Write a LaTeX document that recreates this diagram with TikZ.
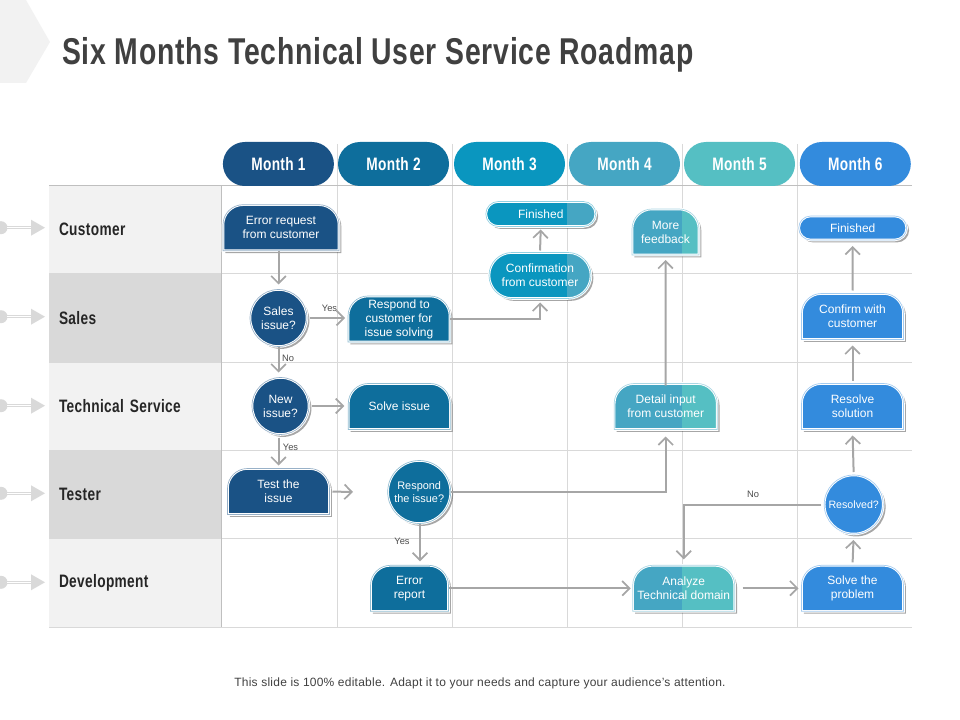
\documentclass[tikz,border=0pt]{standalone}
\usepackage{fontspec}
\setmainfont{Liberation Sans}
\newfontfamily\headfont[FakeStretch=0.76,LetterSpace=2]{Liberation Sans}
\usetikzlibrary{arrows.meta,shapes.misc,shadows}

% month colours
\definecolor{monthA}{HTML}{1A5285}
\definecolor{monthB}{HTML}{0E6E9C}
\definecolor{monthC}{HTML}{0A96BF}
\definecolor{monthD}{HTML}{45A6C3}
\definecolor{monthE}{HTML}{55BFC3}
\definecolor{monthF}{HTML}{338BDD}
\definecolor{rowlight}{HTML}{F2F2F2}
\definecolor{rowdark}{HTML}{D9D9D9}
\definecolor{linegray}{HTML}{A6A6A6}

% box with a round top and a flat bottom
\makeatletter
\pgfdeclareshape{tabshape}{
  \inheritsavedanchors[from=rectangle]
  \inheritanchorborder[from=rectangle]
  \inheritanchor[from=rectangle]{center}
  \inheritanchor[from=rectangle]{north}
  \inheritanchor[from=rectangle]{south}
  \inheritanchor[from=rectangle]{east}
  \inheritanchor[from=rectangle]{west}
  \backgroundpath{
    \southwest \pgf@xa=\pgf@x \pgf@ya=\pgf@y
    \northeast \pgf@xb=\pgf@x \pgf@yb=\pgf@y
    \pgfpathmoveto{\pgfqpoint{\pgf@xa}{\pgf@ya}}
    \pgfpathlineto{\pgfpoint{\pgf@xa}{\pgf@yb-15pt}}
    \pgfpatharc{180}{90}{15pt}
    \pgfpathlineto{\pgfpoint{\pgf@xb-15pt}{\pgf@yb}}
    \pgfpatharc{90}{0}{15pt}
    \pgfpathlineto{\pgfqpoint{\pgf@xb}{\pgf@ya}}
    \pgfpathclose
  }
}
\makeatother

\begin{document}
\begin{tikzpicture}[
    x=0.75pt,
    y=-0.75pt,
    every node/.style={font=\fontsize{9}{10.5}\selectfont},
    boxstep/.style={
      align=center,
      inner sep=0pt,
      outer sep=0pt,
      text=white,
      draw=white,
      double=#1!45!white,
      line width=0.7pt,
      double distance=0.5pt,
      fill=#1,
      drop shadow={shadow xshift=1.8pt,shadow yshift=-1.8pt,opacity=0.35,fill=black}
    },
    tabbox/.style n args={3}{
      boxstep=#1,
      shape=tabshape,
      minimum width=#2*0.75pt,
      minimum height=#3*0.75pt
    },
    pillbox/.style n args={3}{
      boxstep=#1,
      rounded rectangle,
      minimum width=#2*0.75pt,
      minimum height=#3*0.75pt
    },
    askbox/.style 2 args={
      boxstep=#1,
      circle,
      minimum size=#2*0.75pt
    },
    colsplit/.style 2 args={
      path picture={
        \fill[#2] ([xshift=-#1*0.75pt]path picture bounding box.north east)
          rectangle (path picture bounding box.south east);
      }
    },
    month/.style={
      rounded rectangle,
      minimum width=111*0.75pt,
      minimum height=44*0.75pt,
      inner sep=0pt,
      text=white,
      font=\headfont\bfseries\fontsize{13.5}{15}\selectfont
    },
    rowcell/.style={
      rectangle,
      minimum width=172*0.75pt,
      minimum height=88.4*0.75pt,
      text width=152*0.75pt,
      inner sep=10*0.75pt,
      outer sep=0pt,
      align=left,
      text=black!85,
      font=\headfont\bfseries\fontsize{13.5}{15}\selectfont
    },
    arrow/.style={
      draw=linegray,
      line width=1.5pt,
      -{Straight Barb[length=5.5pt,width=11pt,line width=1.3pt]}
    },
    gap/.style={shorten >=#1*0.75pt},
    lead/.style={shorten <=#1*0.75pt},
    answer/.style={font=\fontsize{7}{8}\selectfont,text=black!70,inner sep=0pt},
    gridline/.style={draw=rowdark,line width=0.7pt}
  ]
    \useasboundingbox (0,0) rectangle (960,720);

    % Corner tab and title
    \fill[rowlight] (0,0) -- (26,0) -- (50,42) -- (26,83) -- (0,83) -- cycle;
    \node[anchor=west,inner sep=0pt,text=black!75,font=\headfont\bfseries\fontsize{28}{30}\selectfont]
      (title) at (62,55) {Six Months Technical User Service Roadmap};

    % Row cells
    \node[rowcell,fill=rowlight] (customer) at (135,229.5) {Customer};
    \node[rowcell,fill=rowdark] (sales) at (135,318) {Sales};
    \node[rowcell,fill=rowlight] (techservice) at (135,406.2) {Technical Service};
    \node[rowcell,fill=rowdark] (tester) at (135,494.4) {Tester};
    \node[rowcell,fill=rowlight] (development) at (135,583) {Development};

    % Grid
    \foreach \x in {337,452,567,682,797}
      \draw[gridline] (\x,144) -- (\x,627.5);
    \foreach \y in {273.7,362.3,450,538.7,627.3}
      \draw[gridline] (49,\y) -- (912,\y);
    \draw[draw=black!25,line width=0.8pt] (49,185.3) -- (912,185.3);
    \draw[draw=black!25,line width=0.8pt] (221.5,185.3) -- (221.5,627.3);

    % Marks left of the rows
    \foreach \y in {227.7,316.7,405.7,493.3,582.3} {
      \fill[rowdark] (1,\y) circle (6.5);
      \draw[rowdark,line width=2.4pt] (7,\y) -- (32,\y);
      \draw[white,line width=0.5pt] (7,\y) -- (32,\y);
      \fill[rowdark] (31,\y-8) -- (45,\y) -- (31,\y+8) -- cycle;
    }

    % Month headers
    \node[month,fill=monthA] (month1) at (278.4,164) {Month 1};
    \node[month,fill=monthB] (month2) at (393.5,164) {Month 2};
    \node[month,fill=monthC] (month3) at (509.5,164) {Month 3};
    \node[month,fill=monthD] (month4) at (624.5,164) {Month 4};
    \node[month,fill=monthE] (month5) at (739.5,164) {Month 5};
    \node[month,fill=monthF] (month6) at (855.3,164) {Month 6};

    % Month 1
    \node[tabbox={monthA}{116}{46}] (errorrequest) at (281,227.7) {Error request\\from customer};
    \node[askbox={monthA}{57}] (salesissue) at (278.5,318) {Sales\\issue?};
    \node[askbox={monthA}{57}] (newissue) at (280.5,406) {New\\issue?};
    \node[tabbox={monthA}{102}{46}] (testissue) at (278.5,491.5) {Test the\\issue};

    % Month 2
    \node[tabbox={monthB}{102}{46}] (respondto) at (399,319) {Respond to\\customer for\\issue solving};
    \node[tabbox={monthB}{102}{46}] (solveissue) at (399.3,406.5) {Solve issue};
    \node[askbox={monthB}{63},font=\fontsize{8.2}{9.8}\selectfont] (respondissue) at (419.2,492) {Respond\\the issue?};
    \node[tabbox={monthB}{78}{46}] (errorreport) at (409.5,588.3) {Error\\report};

    % Month 3
    \node[pillbox={monthC}{110}{25},colsplit={29.3}{monthD}] (finishedA) at (540.8,214) {Finished};
    \node[pillbox={monthC}{102}{46},colsplit={24}{monthD}] (confirmation) at (540,275.5) {Confirmation\\from customer};

    % Month 4
    \node[tabbox={monthD}{67}{46},colsplit={17.3}{monthE}] (morefeedback) at (665.5,232) {More\\feedback};
    \node[tabbox={monthD}{103}{46},colsplit={35.3}{monthE}] (detailinput) at (665.7,406.5) {Detail input\\from customer};
    \node[tabbox={monthD}{102}{46},colsplit={53}{monthE}] (analyze) at (683.7,588.3) {Analyze\\Technical domain};

    % Month 6
    \node[pillbox={monthF}{108}{24}] (finishedB) at (852.7,228) {Finished};
    \node[tabbox={monthF}{102}{46}] (confirmwith) at (852.5,316.5) {Confirm with\\customer};
    \node[tabbox={monthF}{102}{46}] (resolvesolution) at (852.5,406.5) {Resolve\\solution};
    \node[askbox={monthF}{59},font=\fontsize{8}{9.6}\selectfont] (resolved) at (853.7,504.5) {Resolved?};
    \node[tabbox={monthF}{102}{46}] (solveproblem) at (852.5,588.3) {Solve the\\problem};

    % Free end of the tester arrow
    \coordinate (testerend) at (353,492);

    % Arrows
    \draw[arrow,gap=5] (errorrequest.south -| salesissue.north) -- (salesissue.north);
    \draw[arrow,lead=3,gap=3] (salesissue.east) -- (salesissue.east -| respondto.west);
    \draw[arrow,gap=5] (salesissue.south) -- (newissue.north -| salesissue.south);
    \draw[arrow,lead=3,gap=4] (newissue.east) -- (newissue.east -| solveissue.west);
    \draw[arrow,lead=3,gap=3] (newissue.south -| testissue.north) -- (testissue.north);
    \draw[arrow,lead=3] (testissue.east) -- (testerend);
    \draw[arrow,gap=4] (respondissue.south -| 420,0) -- (errorreport.north -| 420,0);
    \draw[arrow,gap=7] (respondissue.east) -| (detailinput.south);
    \draw[arrow,lead=-2,gap=5] (detailinput.north) -- (morefeedback.south);
    \draw[arrow,gap=4] (respondto.east) -| (confirmation.south);
    \draw[arrow,lead=2,gap=3] (confirmation.north) -- (finishedA.south);
    \draw[arrow,gap=2] (errorreport.east) -- (analyze.west);
    \draw[arrow,lead=8,gap=3] (analyze.east) -- (solveproblem.west);
    \draw[arrow,lead=3,gap=6] (solveproblem.north) -- (resolved.south);
    \draw[arrow,lead=3,gap=6] (resolved.north) -- (resolvesolution.south);
    \draw[arrow,lead=3,gap=6] (resolvesolution.north) -- (confirmwith.south);
    \draw[arrow,lead=3,gap=6] (confirmwith.north) -- (finishedB.south);
    \draw[arrow,lead=3,gap=6] (resolved.west) -| (analyze.north);

    % Answers on the arrows
    \node[answer] (yesA) at (329.5,308) {Yes};
    \node[answer] (noA) at (288,358.5) {No};
    \node[answer] (yesB) at (290.5,447.5) {Yes};
    \node[answer] (yesC) at (402,541.5) {Yes};
    \node[answer] (noB) at (753,494.5) {No};

    % Footer
    \node[inner sep=0pt,text=black!75,font=\addfontfeature{LetterSpace=2}\fontsize{9}{11}\selectfont]
      (footer) at (480,683) {This slide is 100\% editable. Adapt it to your needs and capture your audience's attention.};

  \end{tikzpicture}
\end{document}
